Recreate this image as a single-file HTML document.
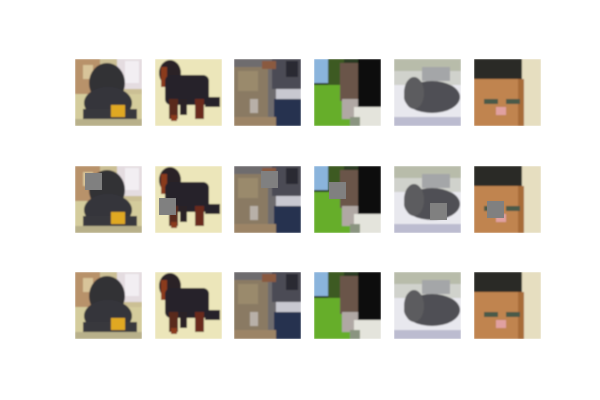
<!DOCTYPE html>
<html><head><meta charset="utf-8"><style>
html,body{margin:0;padding:0;background:#fff;width:600px;height:400px;overflow:hidden}
svg{display:block}
</style></head><body>
<svg id="fig" width="600" height="400" viewBox="0 0 600 400" xmlns="http://www.w3.org/2000/svg">
<defs>
<filter id="bl" x="0" y="0" width="1" height="1"><feGaussianBlur stdDeviation="0.9"/></filter>
<clipPath id="cp"><rect width="67" height="67"/></clipPath>
<symbol id="im0" viewBox="0 0 67 67" width="67" height="67"><g clip-path="url(#cp)"><g filter="url(#bl)">
<rect width="67" height="67" fill="#cbbf94"/>
<rect x="0" y="0" width="25" height="35" fill="#b8926a"/>
<rect x="8" y="6" width="10" height="14" fill="#d8c49a"/>
<rect x="42" y="0" width="25" height="30" fill="#e4dce0"/>
<rect x="50" y="2" width="14" height="22" fill="#f2eef2"/>
<rect x="0" y="35" width="67" height="25" fill="#d4cc9c"/>
<ellipse cx="32" cy="24" rx="18" ry="20" fill="#323236"/>
<ellipse cx="33" cy="44" rx="24" ry="16" fill="#34343a"/>
<rect x="8" y="50" width="54" height="10" fill="#38383c"/>
<rect x="36" y="46" width="14" height="12" fill="#e0a820"/>
<rect x="0" y="60" width="67" height="7" fill="#b8b08a"/>
</g></g></symbol>
<symbol id="im1" viewBox="0 0 67 67" width="67" height="67"><g clip-path="url(#cp)"><g filter="url(#bl)">
<rect width="67" height="67" fill="#ece6ba"/>
<ellipse cx="15" cy="14" rx="11" ry="13" fill="#2a2426"/>
<rect x="6" y="8" width="6" height="20" fill="#8a3a1c"/>
<rect x="10" y="16" width="44" height="30" rx="6" fill="#26242a"/>
<rect x="14" y="40" width="9" height="20" fill="#5a2c1c"/>
<rect x="25" y="40" width="7" height="16" fill="#2a2428"/>
<rect x="40" y="40" width="9" height="20" fill="#6a2c1c"/>
<rect x="50" y="38" width="15" height="10" fill="#26242a"/>
<rect x="16" y="56" width="6" height="6" fill="#8a3a1c"/>
</g></g></symbol>
<symbol id="im2" viewBox="0 0 67 67" width="67" height="67"><g clip-path="url(#cp)"><g filter="url(#bl)">
<rect width="67" height="67" fill="#6e6c6e"/>
<rect x="38" y="0" width="29" height="30" fill="#4c4c54"/>
<rect x="52" y="2" width="12" height="16" fill="#2c2c30"/>
<rect x="42" y="30" width="25" height="10" fill="#c8c8d0"/>
<rect x="40" y="40" width="27" height="27" fill="#283050"/>
<rect x="0" y="8" width="34" height="59" fill="#8a7a64"/>
<rect x="4" y="12" width="20" height="20" fill="#9a8a6c"/>
<rect x="16" y="40" width="8" height="14" fill="#b8b0a8"/>
<rect x="0" y="58" width="42" height="9" fill="#9c8466"/>
<rect x="28" y="2" width="14" height="8" fill="#8a5a40"/>
</g></g></symbol>
<symbol id="im3" viewBox="0 0 67 67" width="67" height="67"><g clip-path="url(#cp)"><g filter="url(#bl)">
<rect width="67" height="67" fill="#2a3a20"/>
<rect x="0" y="0" width="18" height="24" fill="#8ab4dc"/>
<rect x="14" y="0" width="16" height="28" fill="#3c5a24"/>
<rect x="0" y="26" width="36" height="41" fill="#66ae2c"/>
<rect x="44" y="0" width="23" height="50" fill="#0c0c0c"/>
<rect x="26" y="4" width="18" height="38" fill="#6a5448"/>
<rect x="28" y="40" width="16" height="20" fill="#b0a8a4"/>
<rect x="40" y="48" width="27" height="19" fill="#e4e4dc"/>
<rect x="36" y="58" width="10" height="9" fill="#8a9480"/>
</g></g></symbol>
<symbol id="im4" viewBox="0 0 67 67" width="67" height="67"><g clip-path="url(#cp)"><g filter="url(#bl)">
<rect width="67" height="67" fill="#d0d2cc"/>
<rect x="0" y="0" width="67" height="12" fill="#b8bcaa"/>
<rect x="28" y="8" width="28" height="14" fill="#a4a6a8"/>
<rect x="0" y="26" width="67" height="34" fill="#e8e8ee"/>
<ellipse cx="38" cy="38" rx="28" ry="16" fill="#505054"/>
<ellipse cx="20" cy="34" rx="10" ry="16" fill="#5c5c5e"/>
<rect x="0" y="58" width="67" height="9" fill="#bcbcd0"/>
</g></g></symbol>
<symbol id="im5" viewBox="0 0 67 67" width="67" height="67"><g clip-path="url(#cp)"><g filter="url(#bl)">
<rect width="67" height="67" fill="#c08450"/>
<rect x="0" y="0" width="48" height="20" fill="#2a2a28"/>
<rect x="48" y="0" width="19" height="67" fill="#e6dec0"/>
<rect x="44" y="20" width="6" height="47" fill="#a86c38"/>
<rect x="10" y="40" width="14" height="5" fill="#4a5a4a"/>
<rect x="32" y="40" width="14" height="5" fill="#4a5a4a"/>
<rect x="22" y="48" width="10" height="8" fill="#e0a0a0"/>
</g></g></symbol>
</defs>
<g id="grid"></g>
</svg>
<script>
const colX = [75, 155, 234, 314, 394, 474];
const rowY = [59, 166, 272];
const rowNames = ['original-row', 'occluded-row', 'reconstructed-row'];
const occX = [85, 159, 261, 329, 430, 487];
const occY = [173, 198, 171, 182, 203, 201];
const NS = 'http://www.w3.org/2000/svg';
const grid = document.getElementById('grid');
rowY.forEach((y, r) => {
  colX.forEach((x, c) => {
    const u = document.createElementNS(NS, 'use');
    u.setAttribute('href', '#im' + c);
    u.setAttribute('x', x);
    u.setAttribute('y', y);
    u.setAttribute('width', 67);
    u.setAttribute('height', 67);
    
    
    grid.appendChild(u);
    if (r === 1) {
      const s = document.createElementNS(NS, 'rect');
      s.setAttribute('x', occX[c]);
      s.setAttribute('y', occY[c]);
      s.setAttribute('width', 17);
      s.setAttribute('height', 17);
      s.setAttribute('fill', '#808080');
      
      
      grid.appendChild(s);
    }
  });
});
</script>
</body></html>
